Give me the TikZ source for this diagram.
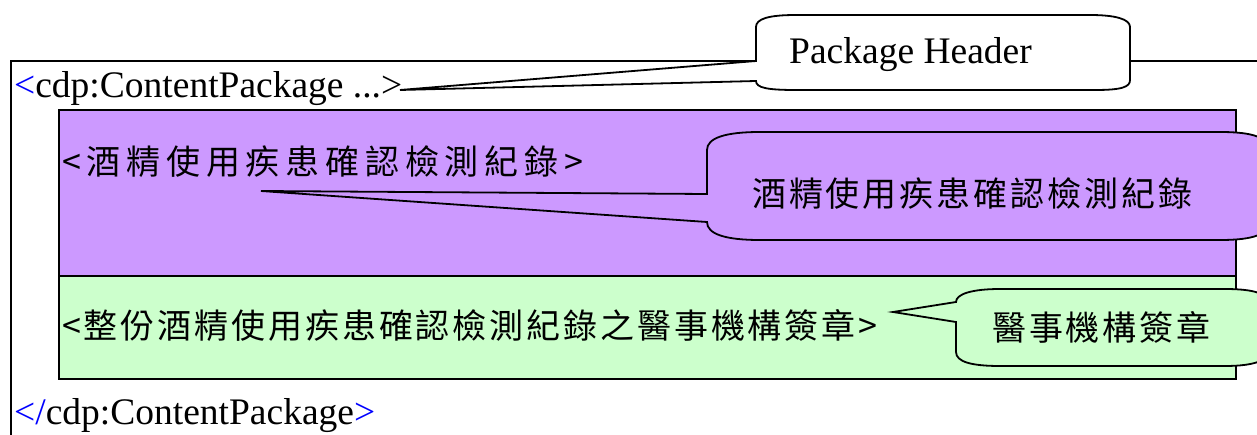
\documentclass[tikz,border=0pt]{standalone}
\usepackage{fontspec}
\setmainfont{Liberation Serif}
\newfontfamily\cjk[LetterSpace=8.5]{Noto Sans CJK TC}
\newfontfamily\cjkw[LetterSpace=17]{Noto Sans CJK TC}
\definecolor{lav}{RGB}{204,153,255}
\definecolor{mint}{RGB}{204,255,204}
\definecolor{tagblue}{RGB}{0,0,255}
\tikzset{
  lat/.style={font=\fontsize{37.5}{44}\selectfont, inner sep=0pt, anchor=base west},
  cj/.style={font=\cjk\fontsize{34}{40}\selectfont, inner sep=0pt, anchor=base west},
  cjw/.style={font=\cjkw\fontsize{34}{40}\selectfont, inner sep=0pt, anchor=base west},
  frame/.style={draw=black, line width=2.4pt},
  callout/.style={draw=black, line width=1.8pt, line join=miter},
}
\begin{document}
\begin{tikzpicture}[x=1pt,y=-1pt]
\useasboundingbox (0,0) rectangle (1257,435);
\clip (0,0) rectangle (1257,435);
% outer package frame
\draw[frame] (1300,61) -- (11,61) -- (11,470);
% element boxes
\draw[frame, fill=lav] (59,110) rectangle (1236,276);
\draw[frame, fill=mint] (59,276) rectangle (1236,379);
% texts
\node[lat] (hdr) at (14,98) {{\color{tagblue}<}cdp:ContentPackage ...>};
\node[cjw] (rec) at (62,175) {<酒精使用疾患確認檢測紀錄>};
\node[cj] (sig) at (62,338) {<整份酒精使用疾患確認檢測紀錄之醫事機構簽章>};
\node[lat] (end) at (14,424) {{\color{tagblue}</}cdp:ContentPackage{\color{tagblue}>}};
% pointer tips
\coordinate (hdrtip) at (400,90);
\coordinate (rectip) at (261,191);
\coordinate (sigtip) at (893,312);
% callouts
\draw[callout, fill=white] (756,61) -- (hdrtip) -- (756,81)
  .. controls (756,88) and (768,90) .. (796,90) -- (1095,90)
  .. controls (1122,90) and (1130,87) .. (1130,80) -- (1130,27)
  .. controls (1130,19) and (1115,15) .. (1090,15) -- (796,15)
  .. controls (768,15) and (756,19) .. (756,27) -- cycle;
\node[lat] (hdrlbl) at (789,64) {Package Header};
\draw[callout, fill=lav] (707,194) -- (rectip) -- (707,222)
  .. controls (707,234) and (725,240) .. (760,240) -- (1220,240)
  .. controls (1255,240) and (1268,234) .. (1268,222) -- (1268,150)
  .. controls (1268,138) and (1255,132) .. (1220,132) -- (760,132)
  .. controls (725,132) and (707,138) .. (707,150) -- cycle;
\node[cj] (reclbl) at (752,207) {酒精使用疾患確認檢測紀錄};
\draw[callout, fill=mint] (956,302) -- (sigtip) -- (956,322) -- (956,352)
  .. controls (956,362) and (972,366) .. (1000,366) -- (1225,366)
  .. controls (1255,366) and (1268,360) .. (1268,352) -- (1268,303)
  .. controls (1268,294) and (1255,289) .. (1225,289) -- (1000,289)
  .. controls (972,289) and (956,294) .. (956,302) -- cycle;
\node[cj] (siglbl) at (992,340) {醫事機構簽章};
\end{tikzpicture}
\end{document}
